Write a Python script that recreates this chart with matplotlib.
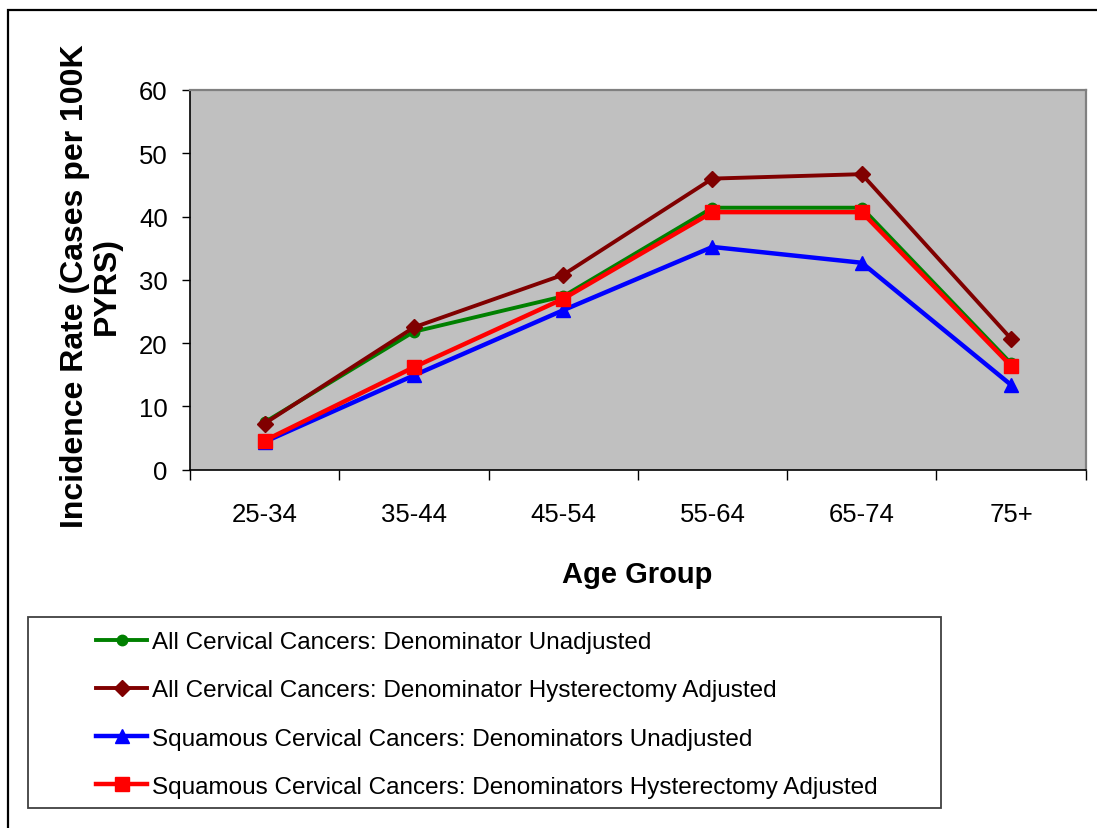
import matplotlib.pyplot as plt
from matplotlib.patches import Rectangle

plt.rcParams['font.family'] = ['Liberation Sans', 'DejaVu Sans']

age_groups = ['25-34', '35-44', '45-54', '55-64', '65-74', '75+']
all_unadj = [7.5, 21.8, 27.4, 41.4, 41.4, 16.8]
all_hyst = [7.3, 22.5, 30.8, 46.0, 46.7, 20.7]
sq_unadj = [4.4, 14.9, 25.2, 35.2, 32.7, 13.4]
sq_hyst = [4.6, 16.2, 27.0, 40.7, 40.7, 16.4]

labels = ['All Cervical Cancers: Denominator Unadjusted',
          'All Cervical Cancers: Denominator Hysterectomy Adjusted',
          'Squamous Cervical Cancers: Denominators Unadjusted',
          'Squamous Cervical Cancers: Denominators Hysterectomy Adjusted']

W, H = 1097, 829
fig = plt.figure(figsize=(W / 100, H / 100), dpi=100)
ax = fig.add_axes([190 / W, 1 - 470.7 / H, (1085.7 - 190) / W, (470.7 - 91) / H])
ax.set_facecolor('#C0C0C0')

x = range(len(age_groups))
ax.plot(x, all_unadj, color='#008000', lw=2.8, marker='o', ms=7.5, label=labels[0])
ax.plot(x, all_hyst, color='#800000', lw=2.8, marker='D', ms=8, label=labels[1])
ax.plot(x, sq_unadj, color='#0000FF', lw=3.2, marker='^', ms=9.5, label=labels[2])
ax.plot(x, sq_hyst, color='#FF0000', lw=3.2, marker='s', ms=9.5, label=labels[3])

ax.set_xlim(-0.5, len(age_groups) - 0.5)
ax.set_ylim(0, 60)
ax.set_yticks(range(0, 61, 10))
ax.tick_params(axis='y', labelsize=18.5, length=6, width=1, pad=10, direction='out')

# ticks on category boundaries, labels at category centres
ax.set_xticks([i - 0.5 for i in range(len(age_groups) + 1)])
ax.set_xticklabels([])
ax.set_xticks(list(x), minor=True)
ax.set_xticklabels(age_groups, minor=True)
ax.tick_params(axis='x', which='major', length=7, width=1, direction='out')
ax.tick_params(axis='x', which='minor', length=0, labelsize=18.5, pad=23)

for side in ['left', 'bottom']:
    ax.spines[side].set_color('black')
    ax.spines[side].set_linewidth(1.2)
for side in ['top', 'right']:
    ax.spines[side].set_color('#808080')
    ax.spines[side].set_linewidth(1.6)

fig.text(91 / W, 1 - 286 / H, 'Incidence Rate (Cases per 100K\nPYRS)', rotation=90,
         ha='center', va='center', multialignment='center',
         fontsize=23, fontweight='bold', linespacing=1.1)
fig.text(637 / W, 1 - 575 / H, 'Age Group', ha='center', va='center',
         fontsize=21, fontweight='bold')

# legend box and outer frame
fig.add_artist(Rectangle((28 / W, 1 - 809 / H), (940.7 - 28) / W, (809 - 618) / H,
                         transform=fig.transFigure, fill=False,
                         edgecolor='#404040', lw=1.3))
fig.add_artist(Rectangle((8 / W, -0.1), 1.2, 1.1 - 11 / H,
                         transform=fig.transFigure, fill=False,
                         edgecolor='black', lw=1.6))

handles, lbls = ax.get_legend_handles_labels()
fig.legend(handles, lbls, loc='upper left', bbox_to_anchor=(96 / W, 1 - 632 / H),
           frameon=False, fontsize=17.5, borderpad=0, borderaxespad=0,
           handlelength=2.1, handletextpad=0.2, labelspacing=1.08, numpoints=1)

fig.savefig('out.png', dpi=100)
